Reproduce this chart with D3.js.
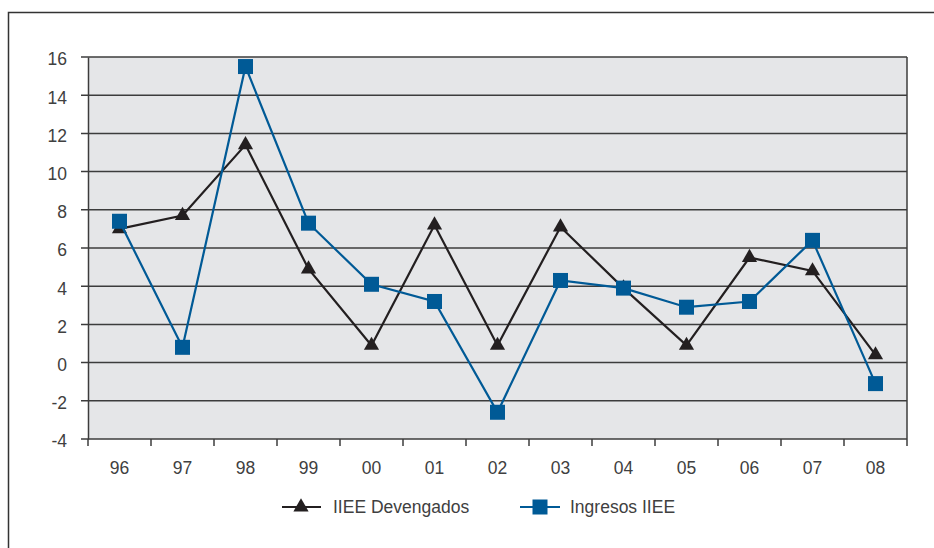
<!DOCTYPE html>
<html>
<head>
<meta charset="utf-8">
<script src="https://cdn.jsdelivr.net/npm/d3@7"></script>
<style>
  body { margin: 0; background: #fff; }
  text { font-family: "Liberation Sans", Arial, sans-serif; fill: #404040; }
</style>
</head>
<body>
<div id="chart"></div>
<script>
// Data
var years = ["96", "97", "98", "99", "00", "01", "02", "03", "04", "05", "06", "07", "08"];
var devengados = [7.0, 7.7, 11.4, 4.9, 0.9, 7.2, 0.9, 7.1, 3.9, 0.9, 5.5, 4.8, 0.4];
var ingresos = [7.4, 0.8, 15.5, 7.3, 4.1, 3.2, -2.6, 4.3, 3.9, 2.9, 3.2, 6.4, -1.1];
var yTicks = [-4, -2, 0, 2, 4, 6, 8, 10, 12, 14, 16];
var seriesNames = ["IIEE Devengados", "Ingresos IIEE"];

var svgWidth = 934;
var svgHeight = 548;
var margin = { top: 57, right: 27, bottom: 109, left: 88 };
var width = svgWidth - margin.left - margin.right;
var height = svgHeight - margin.top - margin.bottom;

var black = "#231f20";
var blue = "#005a96";
var gridColor = "#3c3c3c";
var fontSize = "17.5px";

var svg = d3.select("#chart")
  .append("svg")
  .attr("width", svgWidth)
  .attr("height", svgHeight);

// outer frame (runs off the right and bottom edges)
svg.append("rect")
  .attr("x", 8.5)
  .attr("y", 12.5)
  .attr("width", 960)
  .attr("height", 600)
  .attr("fill", "none")
  .attr("stroke", "#333")
  .attr("stroke-width", 1.5);

var chartGroup = svg.append("g")
  .attr("transform", `translate(${margin.left}, ${margin.top})`);

var x = d3.scaleBand().domain(years).range([0, width]);
var y = d3.scaleLinear().domain([-4, 16]).range([height, 0]);

// plot background
chartGroup.append("rect")
  .attr("width", width)
  .attr("height", height)
  .attr("fill", "#e5e6e8");

// horizontal gridlines
chartGroup.selectAll(".grid")
  .data(yTicks)
  .enter()
  .append("line")
  .attr("x1", -7)
  .attr("x2", width)
  .attr("y1", d => y(d))
  .attr("y2", d => y(d))
  .attr("stroke", gridColor)
  .attr("stroke-width", 1.5);

// right edge of plot
chartGroup.append("line")
  .attr("x1", width).attr("x2", width)
  .attr("y1", 0).attr("y2", height + 7)
  .attr("stroke", gridColor)
  .attr("stroke-width", 1.5);

// left axis (plain hyphen for negatives, like the original)
var leftAxis = d3.axisLeft(y).tickValues(yTicks).tickSize(0).tickPadding(21)
  .tickFormat(d => String(d));
chartGroup.append("g")
  .call(leftAxis)
  .call(g => g.select(".domain").attr("stroke", gridColor).attr("stroke-width", 1.5))
  .selectAll("text")
  .style("font-size", fontSize)
  .attr("dy", "0.45em")
  .attr("fill", "#404040");

// bottom axis: labels in band centres, ticks at band edges
var bottomAxis = d3.axisBottom(x).tickSize(0).tickPadding(23);
chartGroup.append("g")
  .attr("transform", `translate(0, ${height})`)
  .call(bottomAxis)
  .call(g => g.select(".domain").remove())
  .selectAll("text")
  .style("font-size", fontSize)
  .attr("fill", "#404040");

chartGroup.selectAll(".xtick")
  .data(years)
  .enter()
  .append("line")
  .attr("x1", d => x(d))
  .attr("x2", d => x(d))
  .attr("y1", height)
  .attr("y2", height + 7)
  .attr("stroke", gridColor)
  .attr("stroke-width", 1.5);

var line = d3.line()
  .x((d, i) => x(years[i]) + x.bandwidth() / 2)
  .y(d => y(d));

var triangle = d3.symbol().type(d3.symbolTriangle).size(100);

// IIEE Devengados (black triangles)
chartGroup.append("path")
  .datum(devengados)
  .attr("d", line)
  .attr("fill", "none")
  .attr("stroke", black)
  .attr("stroke-width", 2.2);

chartGroup.selectAll(".tri")
  .data(devengados)
  .enter()
  .append("path")
  .attr("d", triangle)
  .attr("transform", (d, i) => `translate(${x(years[i]) + x.bandwidth() / 2}, ${y(d)})`)
  .attr("fill", black);

// Ingresos IIEE (blue squares)
chartGroup.append("path")
  .datum(ingresos)
  .attr("d", line)
  .attr("fill", "none")
  .attr("stroke", blue)
  .attr("stroke-width", 2.2);

chartGroup.selectAll(".sq")
  .data(ingresos)
  .enter()
  .append("rect")
  .attr("x", (d, i) => x(years[i]) + x.bandwidth() / 2 - 7.5)
  .attr("y", d => y(d) - 7.5)
  .attr("width", 15)
  .attr("height", 15)
  .attr("fill", blue);

// legend
var legend = svg.append("g").attr("transform", "translate(0, 507)");

legend.append("line")
  .attr("x1", 282).attr("x2", 321).attr("y1", 0).attr("y2", 0)
  .attr("stroke", black).attr("stroke-width", 2.2);
legend.append("path")
  .attr("d", triangle)
  .attr("transform", "translate(301, 0)")
  .attr("fill", black);
legend.append("text")
  .attr("x", 333).attr("y", 6)
  .style("font-size", fontSize)
  .text(seriesNames[0]);

legend.append("line")
  .attr("x1", 520).attr("x2", 560).attr("y1", 0).attr("y2", 0)
  .attr("stroke", blue).attr("stroke-width", 2.2);
legend.append("rect")
  .attr("x", 532.5).attr("y", -7.5)
  .attr("width", 15).attr("height", 15)
  .attr("fill", blue);
legend.append("text")
  .attr("x", 570).attr("y", 6)
  .style("font-size", fontSize)
  .text(seriesNames[1]);
</script>
</body>
</html>
